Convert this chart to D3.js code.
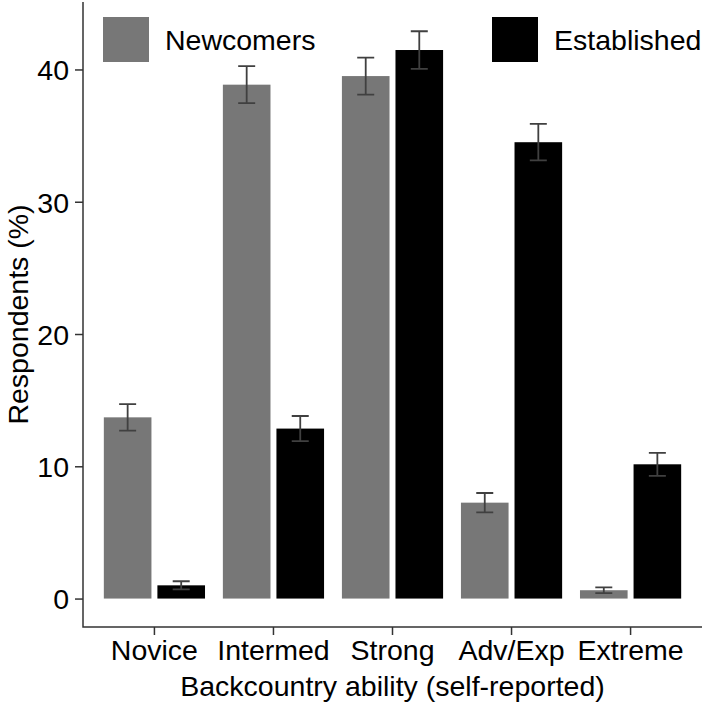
<!DOCTYPE html>
<html lang="en">
<head>
    <meta charset="UTF-8">
    <title>Backcountry ability</title>
    <script src="https://cdn.jsdelivr.net/npm/d3@7"></script>
    <style>
        body {margin: 0; background: #fff;}
        svg {display: block; font-family: "Liberation Sans", Arial, Helvetica, sans-serif;}
    </style>
</head>
<body>
<svg id="chart"></svg>
<script>
    // DATA (percent of respondents)
    const categories = ["Novice", "Intermed", "Strong", "Adv/Exp", "Extreme"];
    const groups = ["Newcomers", "Established"];
    const newcomers = [13.7, 38.85, 39.5, 7.25, 0.63];
    const newcomersErr = [1.0, 1.4, 1.4, 0.73, 0.22];
    const established = [1.0, 12.85, 41.47, 34.5, 10.15];
    const establishedErr = [0.31, 0.95, 1.42, 1.38, 0.87];
    const yTicks = [0, 10, 20, 30, 40];

    const rows = [];
    categories.forEach((c, i) => {
        rows.push({cat: c, group: "Newcomers", value: newcomers[i], err: newcomersErr[i]});
        rows.push({cat: c, group: "Established", value: established[i], err: establishedErr[i]});
    });

    // Dimensions
    const dim = {width: 705, height: 705};
    const panel = {left: 83, right: 702, top: 2, bottom: 627};
    const colors = {Newcomers: "#777777", Established: "#000000"};
    const axisColor = "#333333";
    const fontSize = "28.5px";

    const svg = d3.select("#chart").attr("width", dim.width).attr("height", dim.height);

    // Scales
    const x = d3.scaleBand().domain(categories)
                .range([panel.left, panel.right])
                .paddingInner(0).paddingOuter(0.1);
    const step = x.step();
    const sub = d3.scaleBand().domain(groups).range([-0.45 * step, 0.45 * step]);
    const barW = 0.4 * step;
    const y = d3.scaleLinear().domain([-2.15, 45.1]).range([panel.bottom, panel.top]);

    const cx = d => x(d.cat) + x.bandwidth() / 2 + sub(d.group) + sub.bandwidth() / 2;

    // Bars
    svg.append("g").selectAll("rect")
       .data(rows)
       .join("rect")
          .attr("x", d => cx(d) - barW / 2)
          .attr("y", d => y(d.value))
          .attr("width", barW)
          .attr("height", d => y(0) - y(d.value))
          .attr("fill", d => colors[d.group]);

    // Error bars
    const capW = 17;
    const err = svg.append("g").attr("stroke", "#404040").attr("stroke-width", 1.8).attr("fill", "none");
    err.selectAll("path")
       .data(rows)
       .join("path")
          .attr("d", d => {
              const c = cx(d), lo = y(d.value - d.err), hi = y(d.value + d.err);
              return `M${c - capW/2},${hi}H${c + capW/2}M${c},${hi}V${lo}M${c - capW/2},${lo}H${c + capW/2}`;
          });

    // Axes
    const yAxis = svg.append("g")
                     .attr("transform", `translate(${panel.left},0)`)
                     .call(d3.axisLeft(y).tickValues(yTicks).tickSize(8).tickPadding(6));
    const xAxis = svg.append("g")
                     .attr("transform", `translate(0,${panel.bottom})`)
                     .call(d3.axisBottom(x).tickSize(8).tickPadding(4));

    [yAxis, xAxis].forEach(ax => {
        ax.select(".domain").remove();
        ax.selectAll(".tick line").attr("stroke", axisColor).attr("stroke-width", 1.5);
        ax.selectAll(".tick text").attr("fill", "#000").style("font-size", fontSize)
          .style("font-family", "'Liberation Sans', Arial, Helvetica, sans-serif");
    });
    yAxis.selectAll(".tick text").attr("dy", "0.36em");
    xAxis.selectAll(".tick text").attr("dy", "0.72em");

    // Axis lines (L shape)
    svg.append("path")
       .attr("d", `M${panel.left},${panel.top}V${panel.bottom}H${panel.right}`)
       .attr("fill", "none").attr("stroke", axisColor).attr("stroke-width", 1.5);

    // Axis titles
    svg.append("text")
       .attr("x", (panel.left + panel.right) / 2).attr("y", 696)
       .attr("text-anchor", "middle").style("font-size", fontSize)
       .text("Backcountry ability (self-reported)");
    svg.append("text")
       .attr("transform", `translate(28,${(panel.top + panel.bottom) / 2}) rotate(-90)`)
       .attr("text-anchor", "middle").style("font-size", fontSize)
       .text("Respondents (%)");

    // Legend
    const legendPos = [{group: "Newcomers", x: 103}, {group: "Established", x: 492}];
    const legend = svg.append("g").selectAll("g")
                      .data(legendPos)
                      .join("g").attr("transform", d => `translate(${d.x},17)`);
    legend.append("rect").attr("width", 46).attr("height", 45).attr("fill", d => colors[d.group]);
    legend.append("text").attr("x", 62).attr("y", 23).attr("dy", "0.36em")
          .style("font-size", fontSize).text(d => d.group);
</script>
</body>
</html>
